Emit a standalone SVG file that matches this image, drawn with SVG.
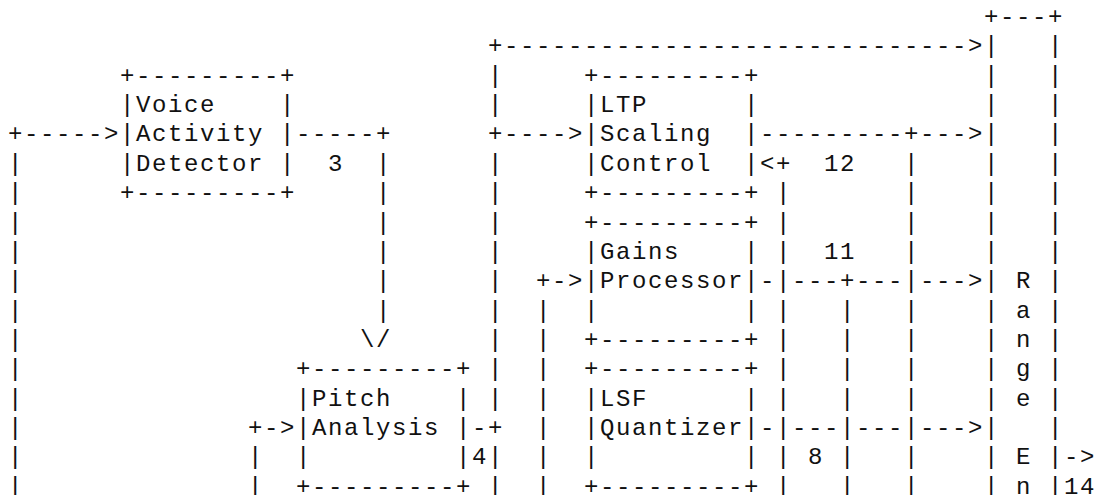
<svg xmlns="http://www.w3.org/2000/svg" width="1104" height="495" viewBox="0 0 1104 495" xml:space="preserve">
<style>
  text { font-family: 'Liberation Mono', 'Courier New', monospace; font-size: 24px; letter-spacing: 1.6px; fill: #111; white-space: pre; }
</style>
<rect width="1104" height="495" fill="#fff"/>
<!-- character grid: column c starts at x = 8 + 16c, row r baseline at y = 24 + 29.35r -->
<g id="vad">
  <text x="120" y="82.7">+---------+</text>
  <text x="120" y="112.1">|Voice    |</text>
  <text x="120" y="141.4">|Activity |</text>
  <text x="120" y="170.8">|Detector |</text>
  <text x="120" y="200.1">+---------+</text>
</g>
<g id="ltp">
  <text x="584" y="82.7">+---------+</text>
  <text x="584" y="112.1">|LTP      |</text>
  <text x="584" y="141.4">|Scaling  |</text>
  <text x="584" y="170.8">|Control  |</text>
  <text x="584" y="200.1">+---------+</text>
</g>
<g id="gains">
  <text x="584" y="229.5">+---------+</text>
  <text x="584" y="258.8">|Gains    |</text>
  <text x="584" y="288.2">|Processor|</text>
  <text x="584" y="317.5">|         |</text>
  <text x="584" y="346.9">+---------+</text>
</g>
<g id="pitch">
  <text x="296" y="376.2">+---------+</text>
  <text x="296" y="405.6">|Pitch    |</text>
  <text x="296" y="434.9">|Analysis |</text>
  <text x="296" y="464.3">|         |</text>
  <text x="296" y="493.6">+---------+</text>
</g>
<g id="lsf">
  <text x="584" y="376.2">+---------+</text>
  <text x="584" y="405.6">|LSF      |</text>
  <text x="584" y="434.9">|Quantizer|</text>
  <text x="584" y="464.3">|         |</text>
  <text x="584" y="493.6">+---------+</text>
</g>
<g id="range">
  <text x="984" y="24">+---+</text>
  <text x="984" y="53.4">|   |</text>
  <text x="984" y="82.7">|   |</text>
  <text x="984" y="112.1">|   |</text>
  <text x="984" y="141.4">|   |</text>
  <text x="984" y="170.8">|   |</text>
  <text x="984" y="200.1">|   |</text>
  <text x="984" y="229.5">|   |</text>
  <text x="984" y="258.8">|   |</text>
  <text x="984" y="288.2">| R |</text>
  <text x="984" y="317.5">| a |</text>
  <text x="984" y="346.9">| n |</text>
  <text x="984" y="376.2">| g |</text>
  <text x="984" y="405.6">| e |</text>
  <text x="984" y="434.9">|   |</text>
  <text x="984" y="464.3">| E |</text>
  <text x="984" y="493.6">| n |</text>
</g>
<g id="connectors">
  <!-- row 1 -->
  <text x="488" y="53.4">+-----------------------------&gt;</text>
  <!-- rows 2-3 -->
  <text x="488" y="82.7">|</text>
  <text x="488" y="112.1">|</text>
  <!-- row 4 -->
  <text x="8" y="141.4">+-----&gt;</text>
  <text x="296" y="141.4">-----+</text>
  <text x="488" y="141.4">+----&gt;</text>
  <text x="760" y="141.4">---------+---&gt;</text>
  <!-- row 5 -->
  <text x="8" y="170.8">|</text>
  <text x="328" y="170.8">3</text>
  <text x="376" y="170.8">|</text>
  <text x="488" y="170.8">|</text>
  <text x="760" y="170.8">&lt;+</text>
  <text x="824" y="170.8">12</text>
  <text x="904" y="170.8">|</text>
  <!-- rows 6-8 -->
  <text x="8" y="200.1">|</text>
  <text x="376" y="200.1">|</text>
  <text x="488" y="200.1">|</text>
  <text x="776" y="200.1">|</text>
  <text x="904" y="200.1">|</text>
  <text x="8" y="229.5">|</text>
  <text x="376" y="229.5">|</text>
  <text x="488" y="229.5">|</text>
  <text x="776" y="229.5">|</text>
  <text x="904" y="229.5">|</text>
  <text x="8" y="258.8">|</text>
  <text x="376" y="258.8">|</text>
  <text x="488" y="258.8">|</text>
  <text x="776" y="258.8">|</text>
  <text x="824" y="258.8">11</text>
  <text x="904" y="258.8">|</text>
  <!-- row 9 -->
  <text x="8" y="288.2">|</text>
  <text x="376" y="288.2">|</text>
  <text x="488" y="288.2">|</text>
  <text x="536" y="288.2">+-&gt;</text>
  <text x="760" y="288.2">-|---+---|---&gt;</text>
  <!-- row 10 -->
  <text x="8" y="317.5">|</text>
  <text x="376" y="317.5">|</text>
  <text x="488" y="317.5">|</text>
  <text x="536" y="317.5">|</text>
  <text x="776" y="317.5">|   |   |</text>
  <!-- row 11 -->
  <text x="8" y="346.9">|</text>
  <text x="360" y="346.9">\/</text>
  <text x="488" y="346.9">|</text>
  <text x="536" y="346.9">|</text>
  <text x="776" y="346.9">|   |   |</text>
  <!-- rows 12-13 -->
  <text x="8" y="376.2">|</text>
  <text x="488" y="376.2">|</text>
  <text x="536" y="376.2">|</text>
  <text x="776" y="376.2">|   |   |</text>
  <text x="8" y="405.6">|</text>
  <text x="488" y="405.6">|</text>
  <text x="536" y="405.6">|</text>
  <text x="776" y="405.6">|   |   |</text>
  <!-- row 14 -->
  <text x="8" y="434.9">|</text>
  <text x="248" y="434.9">+-&gt;</text>
  <text x="472" y="434.9">-+</text>
  <text x="536" y="434.9">|</text>
  <text x="760" y="434.9">-|---|---|---&gt;</text>
  <!-- row 15 -->
  <text x="8" y="464.3">|</text>
  <text x="248" y="464.3">|</text>
  <text x="472" y="464.3">4|</text>
  <text x="536" y="464.3">|</text>
  <text x="776" y="464.3">| 8 |   |</text>
  <text x="1064" y="464.3">-&gt;</text>
  <!-- row 16 -->
  <text x="8" y="493.6">|</text>
  <text x="248" y="493.6">|</text>
  <text x="488" y="493.6">|</text>
  <text x="536" y="493.6">|</text>
  <text x="776" y="493.6">|   |   |</text>
  <text x="1064" y="493.6">14</text>
</g>
</svg>
